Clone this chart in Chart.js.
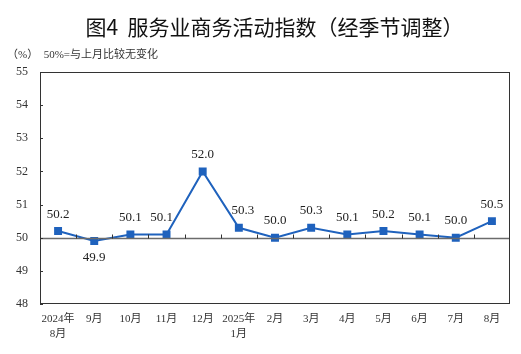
<!DOCTYPE html>
<html>
<head>
<meta charset="utf-8">
<script src="https://cdn.jsdelivr.net/npm/chart.js@4.4.1/dist/chart.umd.min.js"></script>
<style>
  html, body { margin: 0; padding: 0; background: #fff; }
  #wrap { position: relative; width: 521px; height: 354px; overflow: hidden; }
  #title {
    position: absolute; left: 14px; top: 12px; width: 521px; text-align: center;
    font-family: "Noto Sans CJK SC", sans-serif; font-size: 21px; line-height: 28px; color: #111;
    white-space: pre;
  }
  #note {
    position: absolute; left: 7px; top: 46px;
    font-family: "Liberation Serif", "Noto Sans CJK SC", serif; font-size: 11px; line-height: 16px; color: #333;
    white-space: pre;
  }
  #chart { position: absolute; left: 0; top: 0; }
</style>
</head>
<body>
<div id="wrap">
  <canvas id="chart" width="521" height="354"></canvas>
  <div id="title">图4  服务业商务活动指数（经季节调整）</div>
  <div id="note">（%）  50%=与上月比较无变化</div>
</div>
<script>
const months = [
  ['2024年', '8月'], '9月', '10月', '11月', '12月', ['2025年', '1月'],
  '2月', '3月', '4月', '5月', '6月', '7月', '8月'
];
const indexValues = [50.2, 49.9, 50.1, 50.1, 52.0, 50.3, 50.0, 50.3, 50.1, 50.2, 50.1, 50.0, 50.5];
const yTicks = [48, 49, 50, 51, 52, 53, 54, 55];
const baseline = 50;

const lineColor = '#1f62bd';
const frameColor = '#333';

// frame, 50-line with small up ticks, inside y ticks, value labels
const chartDecor = {
  id: 'chartDecor',
  afterDatasetsDraw(chart) {
    const { ctx, chartArea: area, scales: { x, y } } = chart;
    ctx.save();

    const y50 = Math.round(y.getPixelForValue(baseline)) + 0.5;
    ctx.strokeStyle = '#6b6b6b';
    ctx.lineWidth = 1.5;
    ctx.beginPath();
    ctx.moveTo(area.left, y50);
    ctx.lineTo(area.right, y50);
    ctx.stroke();

    ctx.lineWidth = 1;
    ctx.strokeStyle = frameColor;
    ctx.beginPath();
    for (let i = 1; i < months.length; i++) {
      const bx = Math.round((x.getPixelForValue(i - 1) + x.getPixelForValue(i)) / 2) + 0.5;
      ctx.moveTo(bx, y50);
      ctx.lineTo(bx, y50 - 4);
    }
    yTicks.forEach((v) => {
      const ty = Math.round(y.getPixelForValue(v)) + 0.5;
      ctx.moveTo(area.left, ty);
      ctx.lineTo(area.left + 3, ty);
    });
    ctx.stroke();

    ctx.strokeRect(Math.round(area.left) + 0.5, Math.round(area.top) + 0.5,
      Math.round(area.right - area.left) - 1, Math.round(area.bottom - area.top) - 1);

    const meta = chart.getDatasetMeta(0);
    ctx.font = '13px "Liberation Serif", serif';
    ctx.fillStyle = '#222';
    ctx.textAlign = 'center';
    ctx.textBaseline = 'middle';
    meta.data.forEach((pt, i) => {
      const v = indexValues[i];
      const dy = v < baseline ? 17 : -17;
      const dx = i === 3 ? -5 : (i === 5 ? 4 : 0);
      ctx.fillText(v.toFixed(1), pt.x + dx, pt.y + dy);
    });

    ctx.restore();
  }
};

new Chart(document.getElementById('chart'), {
  type: 'line',
  data: {
    labels: months,
    datasets: [{
      data: indexValues,
      borderColor: lineColor,
      backgroundColor: lineColor,
      borderWidth: 2,
      pointStyle: 'rect',
      pointRadius: 4.2,
      pointHoverRadius: 4.2,
      tension: 0
    }]
  },
  options: {
    responsive: false,
    animation: false,
    events: [],
    layout: { padding: { top: 72, right: 11, bottom: 0, left: 0 } },
    plugins: {
      legend: { display: false },
      title: { display: false },
      tooltip: { enabled: false }
    },
    scales: {
      x: {
        offset: true,
        grid: { display: false, drawTicks: false },
        border: { display: false },
        ticks: {
          padding: 8,
          maxRotation: 0,
          autoSkip: false,
          color: '#333',
          font: { family: '"Liberation Serif", "Noto Sans CJK SC", serif', size: 11, lineHeight: 1.35 }
        },
        afterFit(scale) { scale.height = 50; }
      },
      y: {
        min: 48,
        max: 55,
        grid: { display: false, drawTicks: false },
        border: { display: false },
        ticks: {
          stepSize: 1,
          padding: 12,
          color: '#333',
          font: { family: '"Liberation Serif", serif', size: 12 }
        },
        afterFit(scale) { scale.width = 40; }
      }
    }
  },
  plugins: [chartDecor]
});
</script>
</body>
</html>
